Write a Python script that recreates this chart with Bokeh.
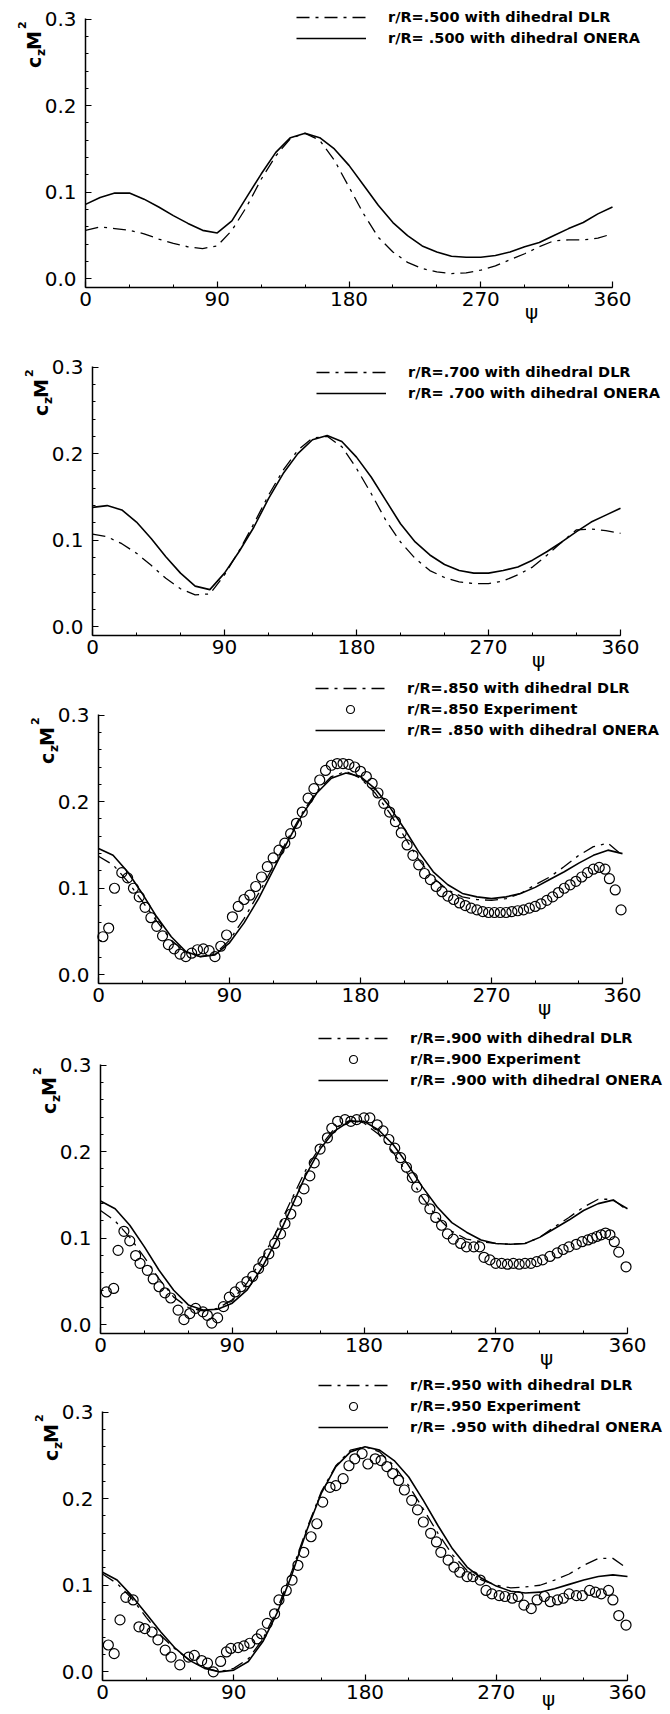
from bokeh.plotting import figure
from bokeh.models import Range1d, SingleIntervalTicker, Label, Legend, LegendItem, NumeralTickFormatter
from bokeh.layouts import column
from bokeh.embed import file_html
from bokeh.resources import INLINE

# ---------------- data ----------------
psi = list(range(0, 361, 10))
radii = [".500", ".700", ".850", ".900", ".950"]

dlr_500 = [0.056, 0.060, 0.058, 0.056, 0.052, 0.046, 0.041, 0.037, 0.035, 0.038,
           0.056, 0.083, 0.115, 0.142, 0.162, 0.168, 0.160, 0.137, 0.106, 0.075,
           0.048, 0.031, 0.019, 0.012, 0.008, 0.006, 0.007, 0.010, 0.015, 0.022,
           0.029, 0.037, 0.044, 0.045, 0.045, 0.047, 0.052]
onera_500 = [0.086, 0.094, 0.099, 0.099, 0.092, 0.083, 0.073, 0.064, 0.056, 0.053,
             0.067, 0.094, 0.121, 0.146, 0.163, 0.168, 0.163, 0.150, 0.131, 0.108,
             0.085, 0.065, 0.050, 0.038, 0.031, 0.026, 0.025, 0.025, 0.027, 0.031,
             0.037, 0.042, 0.050, 0.058, 0.065, 0.075, 0.083]

dlr_700 = [0.107, 0.104, 0.096, 0.085, 0.071, 0.056, 0.044, 0.037, 0.038, 0.060,
           0.088, 0.119, 0.152, 0.181, 0.204, 0.218, 0.220, 0.208, 0.183, 0.154,
           0.123, 0.098, 0.079, 0.065, 0.057, 0.052, 0.050, 0.050, 0.053, 0.060,
           0.069, 0.083, 0.098, 0.112, 0.113, 0.111, 0.108]
onera_700 = [0.138, 0.140, 0.135, 0.121, 0.102, 0.081, 0.062, 0.047, 0.043, 0.062,
             0.087, 0.115, 0.148, 0.177, 0.200, 0.216, 0.221, 0.214, 0.196, 0.173,
             0.146, 0.119, 0.098, 0.083, 0.072, 0.065, 0.062, 0.062, 0.065, 0.069,
             0.077, 0.087, 0.098, 0.110, 0.121, 0.129, 0.137]

dlr_850 = [0.137, 0.127, 0.108, 0.085, 0.062, 0.040, 0.026, 0.021, 0.024, 0.040,
           0.065, 0.094, 0.125, 0.157, 0.187, 0.212, 0.229, 0.235, 0.227, 0.210,
           0.187, 0.160, 0.133, 0.112, 0.098, 0.090, 0.087, 0.086, 0.088, 0.094,
           0.104, 0.113, 0.125, 0.138, 0.148, 0.152, 0.138]
onera_850 = [0.146, 0.138, 0.119, 0.094, 0.067, 0.044, 0.027, 0.021, 0.023, 0.037,
             0.060, 0.088, 0.121, 0.154, 0.185, 0.210, 0.227, 0.233, 0.229, 0.215,
             0.194, 0.169, 0.142, 0.119, 0.104, 0.094, 0.090, 0.088, 0.090, 0.094,
             0.101, 0.110, 0.119, 0.129, 0.138, 0.144, 0.140]
exp_psi_850 = [3, 7, 11, 16, 20] + list(range(24, 349, 4)) + [351, 355, 359]
exp_850 = [0.044, 0.054, 0.100, 0.118, 0.112, 0.100, 0.090, 0.078, 0.066, 0.056,
           0.045, 0.035, 0.030, 0.024, 0.021, 0.025, 0.029, 0.030, 0.028, 0.021,
           0.033, 0.046, 0.067, 0.079, 0.087, 0.092, 0.102, 0.113, 0.125, 0.135,
           0.144, 0.152, 0.163, 0.175, 0.188, 0.204, 0.215, 0.225, 0.236, 0.242,
           0.244, 0.244, 0.243, 0.240, 0.235, 0.229, 0.221, 0.210, 0.198, 0.188,
           0.177, 0.164, 0.150, 0.138, 0.127, 0.117, 0.110, 0.102, 0.096, 0.091,
           0.087, 0.083, 0.080, 0.077, 0.075, 0.073, 0.072, 0.072, 0.072, 0.072,
           0.073, 0.074, 0.075, 0.077, 0.079, 0.082, 0.086, 0.090, 0.095, 0.100,
           0.104, 0.108, 0.113, 0.118, 0.122, 0.124, 0.122, 0.111, 0.098, 0.075]

dlr_900 = [0.132, 0.120, 0.101, 0.078, 0.053, 0.032, 0.020, 0.016, 0.019, 0.029,
           0.048, 0.075, 0.107, 0.143, 0.178, 0.206, 0.227, 0.236, 0.233, 0.220,
           0.199, 0.174, 0.147, 0.124, 0.108, 0.099, 0.096, 0.094, 0.093, 0.094,
           0.101, 0.113, 0.124, 0.136, 0.145, 0.145, 0.132]
onera_900 = [0.143, 0.134, 0.115, 0.090, 0.063, 0.040, 0.023, 0.017, 0.018, 0.025,
             0.040, 0.065, 0.097, 0.134, 0.172, 0.203, 0.224, 0.235, 0.235, 0.225,
             0.208, 0.185, 0.159, 0.136, 0.118, 0.107, 0.098, 0.094, 0.093, 0.094,
             0.101, 0.111, 0.121, 0.132, 0.140, 0.144, 0.134]
exp_psi_900 = [4, 9, 12, 16, 20, 24, 27, 32, 36, 40,
               44, 48, 53, 57, 61, 65, 70, 73, 76, 80,
               84, 88, 92, 96, 100, 104, 108, 111, 115, 119,
               123, 126, 130, 134, 139, 143, 146, 150, 155, 158,
               162, 167, 171, 175, 180, 184, 189, 193, 197, 201,
               205, 209, 213, 216, 221, 225, 229, 233, 237, 241,
               246, 250, 255, 259, 262, 266, 270, 274, 278, 282,
               286, 290, 294, 298, 302, 307, 312, 316, 320, 325,
               329, 333, 336, 339, 342, 345, 348, 351, 354, 359]
exp_900 = [0.038, 0.042, 0.086, 0.108, 0.097, 0.080, 0.071, 0.063, 0.053, 0.044,
           0.037, 0.031, 0.017, 0.006, 0.013, 0.019, 0.015, 0.011, 0.002, 0.008,
           0.021, 0.032, 0.038, 0.044, 0.050, 0.056, 0.065, 0.073, 0.082, 0.094,
           0.105, 0.117, 0.128, 0.143, 0.157, 0.172, 0.187, 0.203, 0.216, 0.227,
           0.235, 0.237, 0.235, 0.237, 0.239, 0.239, 0.231, 0.224, 0.214, 0.204,
           0.193, 0.182, 0.170, 0.159, 0.145, 0.134, 0.124, 0.115, 0.105, 0.099,
           0.094, 0.090, 0.090, 0.090, 0.078, 0.075, 0.071, 0.071, 0.070, 0.071,
           0.070, 0.071, 0.071, 0.073, 0.075, 0.079, 0.083, 0.087, 0.090, 0.093,
           0.096, 0.098, 0.100, 0.102, 0.104, 0.106, 0.104, 0.096, 0.084, 0.067]

dlr_950 = [0.113, 0.102, 0.085, 0.063, 0.042, 0.026, 0.013, 0.005, 0.000, 0.004,
           0.015, 0.038, 0.073, 0.117, 0.165, 0.208, 0.238, 0.256, 0.260, 0.254,
           0.238, 0.215, 0.188, 0.160, 0.135, 0.117, 0.106, 0.100, 0.097, 0.098,
           0.100, 0.106, 0.113, 0.123, 0.131, 0.131, 0.119]
onera_950 = [0.115, 0.106, 0.088, 0.067, 0.046, 0.027, 0.013, 0.004, 0.000, 0.002,
             0.012, 0.035, 0.069, 0.113, 0.163, 0.206, 0.237, 0.254, 0.260, 0.256,
             0.244, 0.225, 0.198, 0.169, 0.142, 0.121, 0.108, 0.099, 0.093, 0.091,
             0.092, 0.096, 0.101, 0.106, 0.110, 0.112, 0.110]
exp_psi_950 = [4, 8, 12, 16, 21, 25, 29, 34, 38, 43,
               47, 53, 59, 63, 68, 72, 76, 81, 85, 88,
               93, 97, 101, 106, 109, 113, 118, 121, 126, 130,
               134, 138, 143, 147, 151, 156, 160, 165, 169, 173,
               178, 182, 187, 191, 195, 199, 203, 207, 212, 216,
               220, 225, 229, 232, 237, 241, 245, 250, 254, 259,
               263, 267, 272, 276, 281, 285, 289, 294, 298, 303,
               307, 312, 316, 320, 325, 329, 334, 338, 342, 347,
               350, 354, 359]
exp_950 = [0.031, 0.021, 0.060, 0.086, 0.083, 0.052, 0.050, 0.046, 0.037, 0.025,
           0.017, 0.008, 0.017, 0.019, 0.013, 0.010, 0.000, 0.012, 0.023, 0.027,
           0.028, 0.030, 0.033, 0.038, 0.044, 0.056, 0.067, 0.083, 0.094, 0.106,
           0.123, 0.138, 0.156, 0.171, 0.196, 0.213, 0.215, 0.223, 0.238, 0.246,
           0.252, 0.240, 0.246, 0.244, 0.237, 0.229, 0.221, 0.210, 0.198, 0.187,
           0.173, 0.160, 0.150, 0.138, 0.129, 0.121, 0.115, 0.110, 0.110, 0.106,
           0.094, 0.090, 0.088, 0.087, 0.085, 0.087, 0.077, 0.073, 0.083, 0.087,
           0.081, 0.083, 0.085, 0.090, 0.088, 0.088, 0.094, 0.092, 0.090, 0.094,
           0.083, 0.065, 0.054]

x_tick_interval = 90
y_tick_interval = 0.1
y_axis_top = 0.3
x_axis_level = -0.01

series = [
    (dlr_500, onera_500, None, None),
    (dlr_700, onera_700, None, None),
    (dlr_850, onera_850, exp_psi_850, exp_850),
    (dlr_900, onera_900, exp_psi_900, exp_900),
    (dlr_950, onera_950, exp_psi_950, exp_950),
]

# ---------------- layout (page pixels) ----------------
FIG_W = 670
SCALE = 866.0      # px per unit of c_z M^2
FONT = "DejaVu Sans"

# fig top, fig height, y-axis x, axis width (0..360), x-axis y, legend text start x,
# first legend row centre, gap from x-axis to top of the psi label
layout_spec = [
    dict(top=0,    h=330, ax=85,  aw=527, ay=287,  tx=388, r1=17,   pg=12),
    dict(top=330,  h=348, ax=92,  aw=528, ay=635,  tx=408, r1=372,  pg=12),
    dict(top=678,  h=348, ax=98,  aw=524, ay=983,  tx=407, r1=688,  pg=12),
    dict(top=1026, h=348, ax=100, aw=527, ay=1333, tx=410, r1=1038, pg=12),
    dict(top=1374, h=340, ax=102, aw=525, ay=1680, tx=410, r1=1385, pg=6),
]

GLYPH_W, STANDOFF, ROW_H, ROW_GAP = 70, 22, 20, 1

figs = []
for (dlr, onera, epsi, evals), r, s in zip(series, radii, layout_spec):
    top, h, axx, aw, ay = s["top"], s["h"], s["ax"], s["aw"], s["ay"]
    kx = 360.0 / aw

    def dx(px):  # page px -> psi
        return (px - axx) * kx

    def dy(py):  # page px -> c_z M^2
        return x_axis_level + (ay - py) / SCALE

    p = figure(width=FIG_W, height=h,
               x_range=Range1d(dx(0), dx(FIG_W)),
               y_range=Range1d(dy(top + h), dy(top)),
               output_backend="svg", toolbar_location=None,
               min_border_left=0, min_border_right=0, min_border_top=0, min_border_bottom=0)
    p.outline_line_color = None
    p.xgrid.visible = False
    p.ygrid.visible = False
    p.background_fill_color = "white"
    p.border_fill_color = "white"

    xa, ya = p.xaxis[0], p.yaxis[0]
    xa.fixed_location = x_axis_level
    ya.fixed_location = 0
    xa.bounds = (0, 360)
    ya.bounds = (x_axis_level, y_axis_top + 1e-4)
    xa.ticker = SingleIntervalTicker(interval=x_tick_interval, num_minor_ticks=3)
    ya.ticker = SingleIntervalTicker(interval=y_tick_interval, num_minor_ticks=5)
    ya.formatter = NumeralTickFormatter(format="0.0")
    for ax in (xa, ya):
        ax.axis_line_color = "black"
        ax.axis_line_width = 1.5
        ax.major_tick_in = 6
        ax.major_tick_out = 0
        ax.minor_tick_in = 3
        ax.minor_tick_out = 0
        ax.major_tick_line_width = 1.2
        ax.minor_tick_line_width = 1
        ax.major_tick_line_color = "black"
        ax.minor_tick_line_color = "black"
        ax.major_label_text_font = FONT
        ax.major_label_text_font_size = "20px"
        ax.major_label_text_color = "black"
    xa.major_label_standoff = 4
    ya.major_label_standoff = 9

    r_dlr = p.line(psi, dlr, line_color="black", line_width=1.3, line_dash="13 6 3 6")
    items = [LegendItem(label=f"r/R={r} with dihedral DLR", renderers=[r_dlr])]
    if epsi is not None:
        r_exp = p.scatter(epsi, evals, marker="circle", size=10, fill_color=None,
                          line_color="black", line_width=1.2)
        items.append(LegendItem(label=f"r/R={r} Experiment", renderers=[r_exp]))
    r_on = p.line(psi, onera, line_color="black", line_width=1.6)
    items.append(LegendItem(label=f"r/R= {r} with dihedral ONERA", renderers=[r_on]))

    n = len(items)
    leg_h = n * ROW_H + (n - 1) * ROW_GAP
    leg_bottom_page = s["r1"] - ROW_H / 2 + leg_h
    leg = Legend(items=items,
                 location=(s["tx"] - GLYPH_W - STANDOFF, (top + h) - leg_bottom_page),
                 label_text_font=FONT, label_text_font_style="bold",
                 label_text_font_size="14.5px", label_text_color="black",
                 glyph_width=GLYPH_W, glyph_height=ROW_H, label_height=ROW_H,
                 label_standoff=STANDOFF, spacing=ROW_GAP, padding=0, margin=0,
                 border_line_color=None, background_fill_alpha=0)
    p.add_layout(leg)

    t03 = ay - (y_axis_top - x_axis_level) * SCALE   # page y of the 0.3 tick
    lab_kw = dict(angle=90, angle_units="deg", text_align="left", text_baseline="alphabetic",
                  text_font=FONT, text_font_style="bold", text_color="black")
    p.add_layout(Label(x=dx(axx - 52), y=dy(t03 + 49), text="c", text_font_size="19px", **lab_kw))
    p.add_layout(Label(x=dx(axx - 45), y=dy(t03 + 37), text="z", text_font_size="12px", **lab_kw))
    p.add_layout(Label(x=dx(axx - 52), y=dy(t03 + 31), text="M", text_font_size="19px", **lab_kw))
    p.add_layout(Label(x=dx(axx - 64), y=dy(t03 + 10), text="2", text_font_size="11px", **lab_kw))
    p.add_layout(Label(x=dx(axx + 446), y=dy(ay + s["pg"]), text="ψ", text_align="center",
                       text_baseline="top", text_font=FONT, text_font_size="20px",
                       text_color="black"))
    figs.append(p)

page = column(*figs, spacing=0)
open("out.html", "w").write(file_html(page, INLINE))
